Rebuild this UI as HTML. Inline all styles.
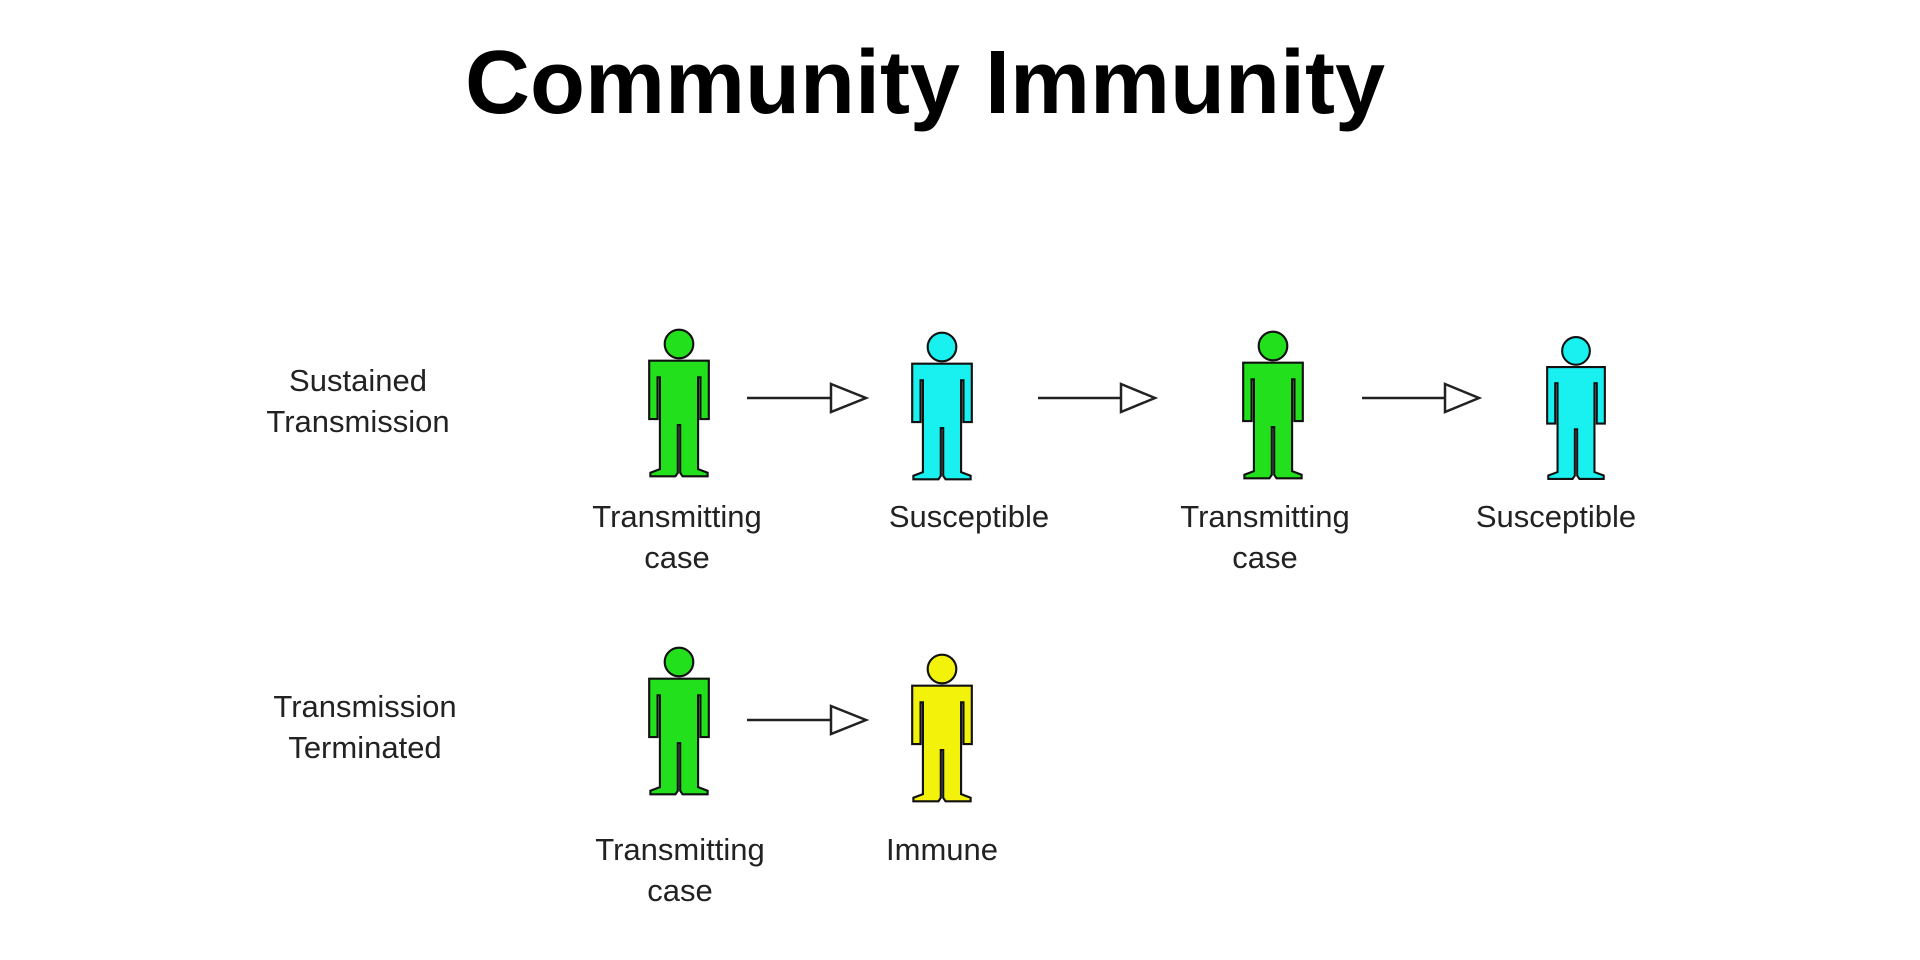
<!DOCTYPE html>
<html><head><style>
html,body{margin:0;padding:0;background:#fff;}
body{width:1920px;height:960px;position:relative;overflow:hidden;font-family:"Liberation Sans",Arial,sans-serif;}
.t{position:absolute;font-size:31px;color:#222;text-align:center;line-height:41px;transform:translateX(-50%);white-space:nowrap;}
h1{position:absolute;left:0;width:1850px;top:32px;margin:0;text-align:center;font-size:90px;font-weight:bold;letter-spacing:0px;}
svg.f{position:absolute;}
</style></head><body>
<h1>Community Immunity</h1>
<svg width="0" height="0" style="position:absolute"><defs>
<g id="p"><circle cx="25" cy="12" r="12"/><path d="M0,26 H50 V75 H43 V40 H41 V117 L49,120 V123 H28 L26,120 V80 H24 V120 L22,123 H1 V120 L9,117 V40 H7 V75 H0 Z"/></g>
</defs></svg>
<svg class="f" style="left:648px;top:327px" width="62" height="152" viewBox="-1 -1 52 125"><use href="#p" fill="#22e01c" stroke="#111" stroke-width="1.8"/></svg>
<svg class="f" style="left:911px;top:330px" width="62" height="152" viewBox="-1 -1 52 125"><use href="#p" fill="#19f0f0" stroke="#111" stroke-width="1.8"/></svg>
<svg class="f" style="left:1242px;top:329px" width="62" height="152" viewBox="-1 -1 52 125"><use href="#p" fill="#22e01c" stroke="#111" stroke-width="1.8"/></svg>
<svg class="f" style="left:1546px;top:332px" width="60" height="152" viewBox="-1 -1 52 125"><use href="#p" fill="#19f0f0" stroke="#111" stroke-width="1.8"/></svg>
<svg class="f" style="left:648px;top:645px" width="62" height="152" viewBox="-1 -1 52 125"><use href="#p" fill="#22e01c" stroke="#111" stroke-width="1.8"/></svg>
<svg class="f" style="left:911px;top:652px" width="62" height="152" viewBox="-1 -1 52 125"><use href="#p" fill="#f2f20a" stroke="#111" stroke-width="1.8"/></svg>
<svg class="f" style="left:0;top:0" width="1920" height="960">
<g stroke="#222" stroke-width="2.5" fill="#fff">
<line x1="747" y1="398" x2="831" y2="398"/><polygon points="831,384 866,398 831,412"/>
<line x1="1038" y1="398" x2="1121" y2="398"/><polygon points="1121,384 1155,398 1121,412"/>
<line x1="1362" y1="398" x2="1445" y2="398"/><polygon points="1445,384 1479,398 1445,412"/>
<line x1="747" y1="720" x2="831" y2="720"/><polygon points="831,706 866,720 831,734"/>
</g></svg>
<div class="t" style="left:358px;top:360px">Sustained<br>Transmission</div>
<div class="t" style="left:365px;top:686px">Transmission<br>Terminated</div>
<div class="t" style="left:677px;top:496px">Transmitting<br>case</div>
<div class="t" style="left:969px;top:496px">Susceptible</div>
<div class="t" style="left:1265px;top:496px">Transmitting<br>case</div>
<div class="t" style="left:1556px;top:496px">Susceptible</div>
<div class="t" style="left:680px;top:829px">Transmitting<br>case</div>
<div class="t" style="left:942px;top:829px">Immune</div>
</body></html>
